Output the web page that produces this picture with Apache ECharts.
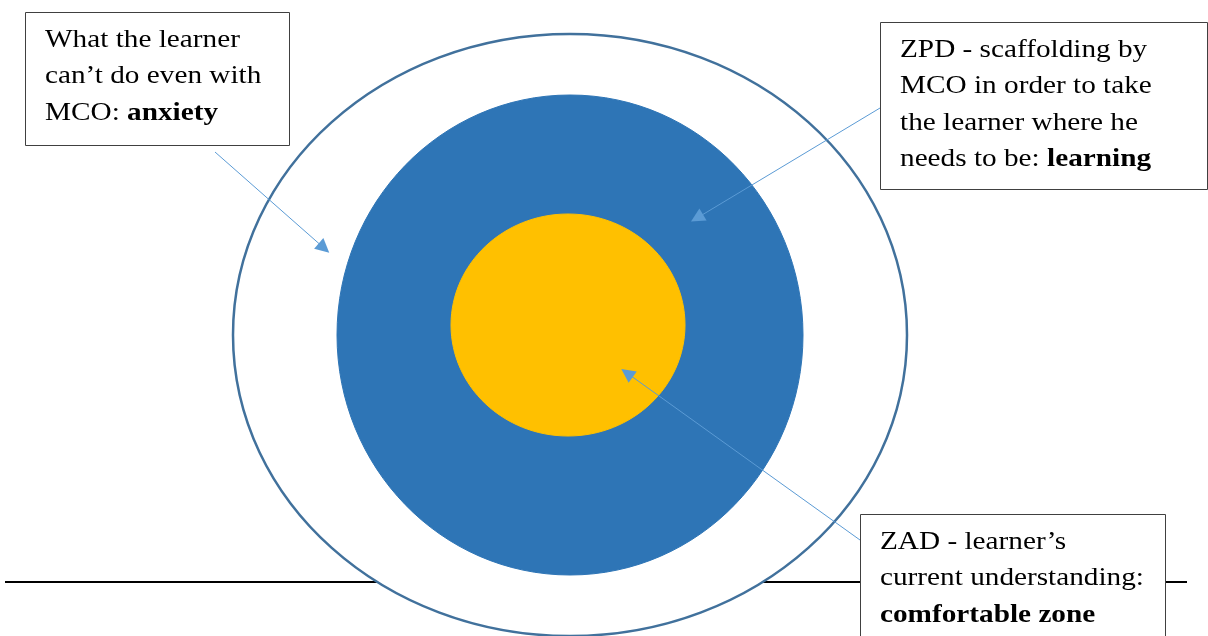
<!DOCTYPE html>
<html>
<head>
<meta charset="utf-8">
<script src="https://cdn.jsdelivr.net/npm/echarts@6/dist/echarts.min.js"></script>
<style>
  html, body { margin: 0; padding: 0; background: #fff; }
  #chart { width: 1208px; height: 636px; }
</style>
</head>
<body>
<div id="chart"></div>
<script>
// zones of the diagram: outer (anxiety), ZPD (learning), ZAD (comfortable zone)
const zoneNames = ['anxiety', 'learning', 'comfortable zone'];
const zoneCenters = [[570, 335], [570, 335], [568, 325]];
const zoneRadii = [[337, 301], [233, 240], [117, 111]];

// callout labels, the bold word goes at the end of the last line
const labelLines = [
  ['What the learner', 'can\u2019t do even with', 'MCO: '],
  ['ZPD - scaffolding by', 'MCO in order to take', 'the learner where he', 'needs to be: '],
  ['ZAD - learner\u2019s', 'current understanding:', '']
];
const labelBold = ['anxiety', 'learning', 'comfortable zone'];
const labelBoxes = [[25, 12, 264, 133], [880, 22, 327, 167], [860, 514, 305, 140]];

// arrows from each label to its zone
const arrowStart = [[215, 152], [880, 108], [860, 540]];
const arrowEnd = [[324, 248], [697, 218], [627, 373]];

// horizontal rule behind the circles
const baseLine = [[5, 582], [1187, 582]];

const zoneFill = ['#ffffff', '#2e75b6', '#ffc000'];
const zoneStroke = ['#41719c', '#2e75b6', '#ffc000'];
const serif = '"Liberation Serif", "DejaVu Serif", serif';

const buildLabel = (i) => {
  const lines = labelLines[i].map((l, k) => {
    const last = k === labelLines[i].length - 1;
    let s = l ? '{n|' + l + '}' : '';
    if (last) s += '{b|' + labelBold[i] + '}';
    return s;
  });
  return lines.join('\n');
};

const chart = echarts.init(document.getElementById('chart'));

const option = {
  animation: false,
  grid: { left: 0, right: 0, top: 0, bottom: 0 },
  xAxis: { type: 'value', min: 0, max: 1208, show: false },
  yAxis: { type: 'value', min: 0, max: 636, inverse: true, show: false },
  series: [
    {
      type: 'lines',
      coordinateSystem: 'cartesian2d',
      z: 1,
      silent: true,
      lineStyle: { color: '#000', width: 2, opacity: 1 },
      data: [{ coords: baseLine }]
    },
    {
      type: 'custom',
      z: 2,
      silent: true,
      data: zoneNames.map((n, i) => ({
        name: n,
        value: [zoneCenters[i][0], zoneCenters[i][1], zoneRadii[i][0], zoneRadii[i][1]]
      })),
      renderItem: function (params, api) {
        const i = params.dataIndex;
        const c = api.coord([api.value(0), api.value(1)]);
        const e = api.coord([api.value(0) + api.value(2), api.value(1) + api.value(3)]);
        return {
          type: 'ellipse',
          shape: { cx: c[0], cy: c[1], rx: Math.abs(e[0] - c[0]), ry: Math.abs(e[1] - c[1]) },
          style: { fill: zoneFill[i], stroke: zoneStroke[i], lineWidth: i === 0 ? 2.5 : 1 }
        };
      }
    },
    {
      type: 'lines',
      coordinateSystem: 'cartesian2d',
      z: 3,
      silent: true,
      symbol: ['none', 'triangle'],
      symbolSize: [10, 14],
      lineStyle: { color: '#5b9bd5', width: 1, opacity: 1 },
      data: arrowStart.map((s, i) => ({ coords: [s, arrowEnd[i]] }))
    },
    {
      type: 'custom',
      z: 4,
      silent: true,
      data: labelBoxes,
      renderItem: function (params, api) {
        const i = params.dataIndex;
        const p = api.coord([api.value(0), api.value(1)]);
        const q = api.coord([api.value(0) + api.value(2), api.value(1) + api.value(3)]);
        return {
          type: 'group',
          children: [
            {
              type: 'rect',
              shape: { x: p[0] + 0.5, y: p[1] + 0.5, width: q[0] - p[0], height: q[1] - p[1] },
              style: { fill: '#fff', stroke: '#404040', lineWidth: 1 }
            },
            {
              type: 'text',
              x: p[0] + 20,
              y: p[1] + 10,
              scaleX: 1.17,
              style: {
                text: buildLabel(i),
                rich: {
                  n: { fontFamily: serif, fontSize: 25, lineHeight: 36.5, fill: '#000' },
                  b: { fontFamily: serif, fontSize: 25, lineHeight: 36.5, fontWeight: 'bold', fill: '#000' }
                }
              }
            }
          ]
        };
      }
    }
  ]
};

chart.setOption(option);
</script>
</body>
</html>
